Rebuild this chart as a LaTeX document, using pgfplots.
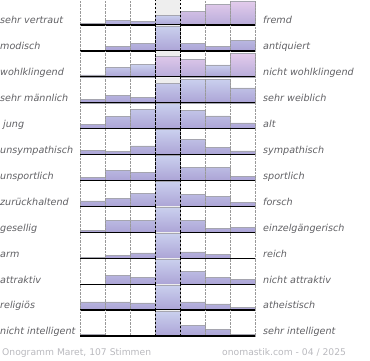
\documentclass[border=0pt]{standalone}
\usepackage{pgfplots}
\pgfplotsset{compat=1.18}
\usepackage{fontspec}
\setmainfont{DejaVu Sans}
\definecolor{labc}{RGB}{96,96,100}
\definecolor{footc}{RGB}{185,185,190}
\definecolor{btop}{RGB}{202,208,238}
\definecolor{bbot}{RGB}{172,164,214}
\definecolor{ptop}{RGB}{228,204,236}
\definecolor{pbot}{RGB}{184,172,218}
\definecolor{edge}{RGB}{165,165,175}
\pgfplotsset{
 rowax/.style={scale only axis, width=175pt, height=25.92pt, anchor=south west,
  xmin=0, xmax=7, ymin=0, ymax=25.92,
  axis x line*=bottom, axis y line=none,
  x axis line style={line width=1.3pt, black},
  xtick={0,1,2,5,6,7}, xticklabels={}, ytick=\empty, major tick length=0pt,
  xmajorgrids, grid style={densely dotted, gray!80, line width=0.5pt},
  extra x ticks={3,4}, extra x tick labels={},
  extra x tick style={grid style={dash pattern=on 2.5pt off 1.5pt, black, line width=0.7pt}},
  axis on top, clip=false},
 bluebar/.style={ybar, bar width=1, bar shift=0pt, top color=btop, bottom color=bbot, draw=edge, line width=0.5pt},
 pinkbar/.style={ybar, bar width=1, bar shift=0pt, top color=ptop, bottom color=pbot, draw=edge, line width=0.5pt},
}
\newcommand{\barrow}[5]{%
\begin{axis}[rowax, at={(80pt,#1pt)}]
\addplot[ybar, bar width=1, bar shift=0pt, fill=gray!13, draw=none] coordinates {(3.5,25.92)};
\addplot[bluebar] coordinates {#4};
#5
\end{axis}
\node[font=\fontsize{9.6}{11}\selectfont\itshape, text=labc, anchor=base west, inner sep=0pt] at (0pt,#1pt+1.2pt) {#2};
\node[font=\fontsize{9.6}{11}\selectfont\itshape, text=labc, anchor=base west, inner sep=0pt] at (263pt,#1pt+1.2pt) {#3};
}
\begin{document}
\begin{tikzpicture}
\path[use as bounding box] (0,0) rectangle (370pt,360pt);
\barrow{335}{sehr vertraut}{fremd}{(0.5,1.3) (1.5,4.7) (2.5,3.3) (3.5,10)}{\addplot[pinkbar] coordinates {(4.5,13.3) (5.5,20.7) (6.5,24)};}
\barrow{309.08}{modisch}{antiquiert}{(1.5,4.7) (2.5,7.7) (3.5,24.8) (4.5,7.7) (5.5,4.7) (6.5,10.7)}{}
\barrow{283.16}{wohlklingend}{nicht wohlklingend}{(0.5,2) (1.5,9.3) (2.5,12.3) (5.5,12)}{\addplot[pinkbar] coordinates {(3.5,20.7) (4.5,17.3) (6.5,23.7)};}
\barrow{257.24}{sehr männlich}{sehr weiblich}{(0.5,3.7) (1.5,7.3) (2.5,5.3) (3.5,19.7) (4.5,23.7) (5.5,23.7) (6.5,15)}{}
\barrow{231.32}{\hspace*{3pt}jung}{alt}{(0.5,4) (1.5,12) (2.5,19) (3.5,25) (4.5,18) (5.5,12.7) (6.5,5.7)}{}
\barrow{205.40}{unsympathisch}{sympathisch}{(0.5,4.3) (1.5,3.3) (2.5,8.7) (3.5,25) (4.5,15.3) (5.5,7.3) (6.5,3.7)}{}
\barrow{179.48}{unsportlich}{sportlich}{(0.5,3) (1.5,10.3) (2.5,8.3) (3.5,25) (4.5,13) (5.5,13) (6.5,4)}{}
\barrow{153.56}{zurückhaltend}{forsch}{(0.5,5.5) (1.5,8.2) (2.5,13) (3.5,25) (4.5,12.3) (5.5,9.8) (6.5,4.3)}{}
\barrow{127.64}{gesellig}{einzelgängerisch}{(0.5,1.7) (1.5,12) (2.5,12) (3.5,25) (4.5,12) (5.5,4.3) (6.5,5)}{}
\barrow{101.72}{arm}{reich}{(0.5,1) (1.5,2.7) (2.5,5.3) (3.5,25) (4.5,6.3) (5.5,3.7)}{}
\barrow{75.80}{attraktiv}{nicht attraktiv}{(1.5,9) (2.5,7) (3.5,25) (4.5,12.7) (5.5,7) (6.5,5)}{}
\barrow{49.88}{religiös}{atheistisch}{(0.5,8.3) (1.5,8.3) (2.5,7.3) (3.5,25) (4.5,8.3) (5.5,6.3) (6.5,2.7)}{}
\barrow{23.96}{nicht intelligent}{sehr intelligent}{(0.5,2) (3.5,25) (4.5,10.3) (5.5,6.3) (6.5,2)}{}
\node[font=\fontsize{9.2}{10}\selectfont, text=footc, anchor=base west, inner sep=0pt] at (2pt,5pt) {Onogramm Maret, 107 Stimmen};
\node[font=\fontsize{9.2}{10}\selectfont, text=footc, anchor=base west, inner sep=0pt] at (222pt,5pt) {onomastik.com - 04 / 2025};
\end{tikzpicture}
\end{document}
